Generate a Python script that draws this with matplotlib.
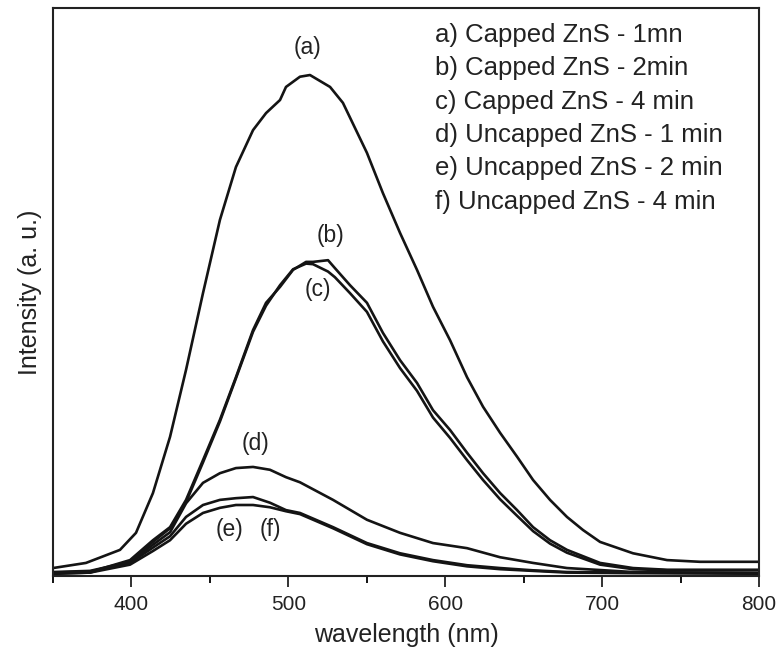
import matplotlib
matplotlib.use("Agg")
import matplotlib.pyplot as plt
from matplotlib.ticker import MultipleLocator

plt.rcParams['font.family'] = ['Liberation Sans', 'DejaVu Sans']

# ---- data ----
wl_a = [350, 371.0, 392.7, 402.9, 413.7, 424.6, 434.8, 445.6, 456.4, 466.6, 477.5,
        485.8, 494.7, 498.5, 507.4, 513.8, 526.6, 534.8, 550.1, 560.3, 571.2, 582.0,
        592.2, 603.1, 613.9, 624.1, 635.0, 645.8, 656.0, 666.8, 677.6, 687.8, 698.7,
        719.7, 741.4, 762.4, 800]
int_a = [1.4, 2.3, 4.6, 7.6, 14.6, 24.5, 36.3, 49.8, 62.7, 72.0, 78.5,
         81.5, 83.8, 86.1, 87.9, 88.2, 86.1, 83.3, 74.5, 67.4, 60.4, 53.9,
         47.4, 41.5, 35.0, 29.8, 25.2, 21.0, 16.9, 13.4, 10.4, 8.1, 6.0,
         4.0, 2.8, 2.5, 2.5]

wl_bc = [350, 373.6, 399.1, 413.7, 424.6, 434.8, 445.6, 456.4, 466.6, 477.5, 485.8,
         494.7, 503.0, 511.3, 515.7, 525.3, 529.7, 539.3, 550.1, 560.3, 571.2, 582.0,
         592.2, 603.1, 613.9, 624.1, 635.0, 645.8, 656.0, 666.8, 677.6, 698.7, 719.7,
         741.4, 800]
int_b = [0.5, 0.7, 2.8, 6.3, 8.6, 13.4, 20.4, 27.5, 35.0, 43.3, 48.1,
         50.9, 53.9, 55.3, 55.3, 55.6, 54.2, 51.2, 48.1, 42.8, 38.0, 34.0,
         29.2, 25.7, 21.7, 18.1, 14.6, 11.6, 8.6, 6.3, 4.6, 2.3, 1.4,
         1.1, 1.1]
int_c = [0.4, 0.6, 2.6, 6.0, 8.4, 13.0, 20.0, 27.2, 34.8, 43.0, 47.6,
         51.2, 54.0, 55.0, 54.9, 53.6, 52.6, 49.8, 46.5, 41.3, 36.6, 32.6,
         27.9, 24.3, 20.4, 16.9, 13.5, 10.6, 7.9, 5.7, 4.1, 2.0, 1.2,
         1.0, 1.0]

wl_def = [350, 373.6, 399.1, 413.7, 424.6, 434.8, 445.6, 456.4, 466.6, 477.5, 488.3,
          498.5, 507.4, 528.5, 550.1, 571.2, 592.2, 613.9, 635.0, 656.0, 677.6, 719.7, 800]
int_d = [0.7, 0.9, 2.5, 5.5, 7.7, 12.8, 16.4, 18.1, 19.0, 19.2, 18.7,
         17.4, 16.5, 13.4, 9.9, 7.6, 5.8, 4.9, 3.3, 2.3, 1.4, 0.7, 0.5]
int_e = [0.6, 0.8, 2.3, 5.0, 7.0, 10.4, 12.5, 13.4, 13.7, 13.9, 12.9,
         11.6, 11.1, 8.6, 5.8, 4.0, 2.8, 1.9, 1.4, 1.0, 0.7, 0.6, 0.5]
int_f = [0.4, 0.6, 2.0, 4.4, 6.3, 9.2, 11.1, 12.0, 12.5, 12.5, 12.1,
         11.4, 10.9, 8.4, 5.6, 3.8, 2.6, 1.7, 1.2, 0.9, 0.6, 0.5, 0.4]

legend_lines = ["a) Capped ZnS - 1mn", "b) Capped ZnS - 2min", "c) Capped ZnS - 4 min",
                "d) Uncapped ZnS - 1 min", "e) Uncapped ZnS - 2 min", "f) Uncapped ZnS - 4 min"]
curve_tags = ["(a)", "(b)", "(c)", "(d)", "(e)", "(f)"]
tag_wl = [511.9, 526.6, 518.9, 478.8, 462.8, 488.3]
tag_int = [93.1, 60.0, 50.5, 23.4, 8.1, 8.1]

x_ticks = [400, 500, 600, 700, 800]

# ---- figure ----
fig = plt.figure(figsize=(7.81, 6.48), dpi=100)
ax = fig.add_axes([53/781, 72/648, 706/781, 568/648])

col = '#141414'
lw = 1.9
for xs, ys in [(wl_a, int_a), (wl_bc, int_b), (wl_bc, int_c),
               (wl_def, int_d), (wl_def, int_e), (wl_def, int_f)]:
    ax.plot(xs, ys, color=col, lw=lw, solid_joinstyle='round')

ax.set_xlim(350, 800)
ax.set_ylim(0, 100)
ax.set_xticks(x_ticks)
ax.set_xticklabels([str(t) for t in x_ticks])
ax.xaxis.set_minor_locator(MultipleLocator(50))
ax.set_yticks([])
ax.tick_params(axis='x', which='major', direction='out', length=8, width=1.3,
               labelsize=15, pad=6, colors='#222222')
ax.tick_params(axis='x', which='minor', direction='out', length=5, width=1.3)
for s in ax.spines.values():
    s.set_linewidth(1.5)
    s.set_color('#222222')

ax.set_xlabel("wavelength (nm)", fontsize=18, color='#222222', labelpad=6)
ax.set_ylabel("Intensity (a. u.)", fontsize=18, color='#222222', labelpad=8)

for tag, tx, ty in zip(curve_tags, tag_wl, tag_int):
    ax.text(tx, ty, tag, fontsize=16.5, ha='center', va='center', color='#222222')

y0 = (576 - 42) / 568
dy = 33.3 / 568
for i, line in enumerate(legend_lines):
    ax.text((435 - 53) / 706, y0 - i * dy, line, transform=ax.transAxes,
            fontsize=18.5, ha='left', va='baseline', color='#222222')

fig.savefig("out.png", dpi=100)
